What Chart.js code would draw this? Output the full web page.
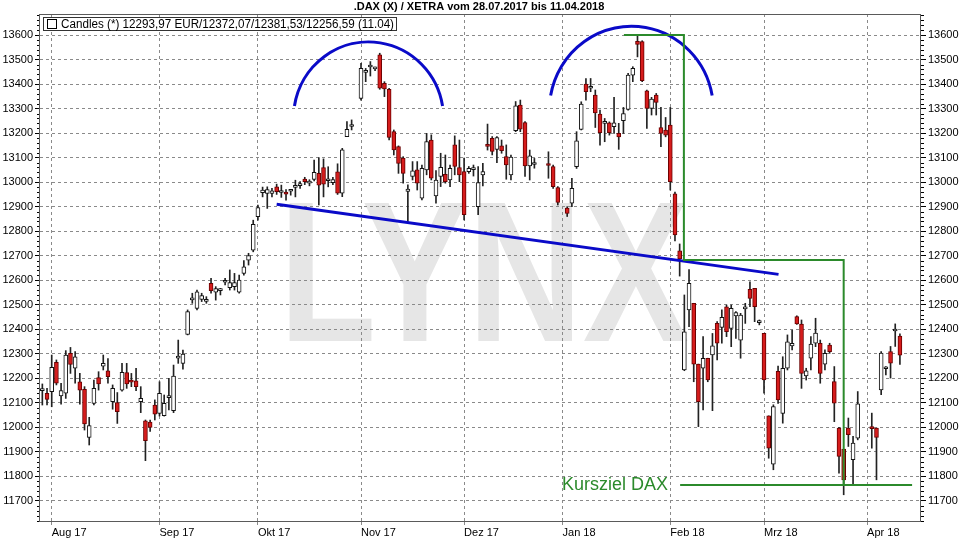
<!DOCTYPE html>
<html>
<head>
<meta charset="utf-8">
<script src="https://cdn.jsdelivr.net/npm/chart.js@4.4.0/dist/chart.umd.min.js"></script>
<style>
  html, body { margin: 0; padding: 0; background: #fff; }
  #wrap { width: 960px; height: 540px; }
</style>
</head>
<body>
<div id="wrap"><canvas id="dax" width="960" height="540"></canvas></div>
<script>
// DAX daily candles 28.07.2017 - 11.04.2018 (one entry per weekday, null = no trading)
const open = [
  12150, 12139, 12146, 12265, 12128, 12139, 12302, 12241, 12186, 12155,
  11959, 12098, 12203, 12250, 12231, 12105, 12101, 12152, 12223, 12193,
  12190, 12105, 12027, 12021, 12091, 12057, 12048, 12121, 12068, 12282,
  12261, 12379, 12520, 12485, 12522, 12514, 12587, 12551, 12558, 12592,
  12570, 12574, 12551, 12628, 12682, 12723, 12859, 12957, 12954, 12954,
  12981, 12958, 12960, 12963, 12979, 12986, 13013, 12996, 13011, 13036,
  13060, 13006, 12998, 13042, 12955, 13186, 13227, null, 13342, 13448,
  13470, 13462, 13519, 13403, 13379, 13206, 13145, 13098, 12962, 13023,
  13050, 12935, 13050, 13172, 12944, 13023, 13032, 13009, 13152, 13060,
  13043, 13043, 13051, 12900, 13030, 13150, 13179, 13134, 13148, 13104,
  13030, 13210, 13315, 13243, 13066, 13072, null, null, 13072, 13064,
  12978, null, 12894, 12914, 13063, 13215, 13400, 13383, 13355, 13278,
  13240, 13242, 13226, 13199, 13251, 13297, 13437, 13575, 13573, 13373,
  13301, 13355, 13223, 13213, 13233, 12952, 12720, 12234, 12479, 12506,
  12258, 12241, 12282, 12295, 12424, 12408, 12492, 12404, 12454, 12356,
  12483, 12563, 12567, 12427, 12383, 12047, 11850, 12228, 12057, 12241,
  12332, 12452, 12421, 12210, 12282, 12343, 12343, 12258, 12336, 12187,
  11997, 11911, 11997, 11868, 11956, null, null, 12000, 11997, 12153,
  12239, 12309, 12393, 12372.07
];
const high = [
  12177, 12159, 12295, 12275, 12180, 12313, 12326, 12309, 12220, 12166,
  12041, 12193, 12227, 12295, 12281, 12173, 12142, 12261, 12261, 12220,
  12241, 12166, 12030, 12030, 12112, 12186, 12132, 12200, 12254, 12356,
  12315, 12479, 12547, 12560, 12547, 12533, 12608, 12574, 12567, 12608,
  12642, 12628, 12621, 12680, 12710, 12845, 12907, 12980, 12981, 12975,
  12992, 12988, 12970, 12970, 13008, 13002, 13020, 13010, 13090, 13100,
  13095, 13063, 13020, 13075, 13138, 13247, 13254, null, 13485, 13464,
  13492, 13470, 13526, 13410, 13383, 13213, 13148, 13104, 12989, 13084,
  13084, 13070, 13199, 13193, 13047, 13118, 13111, 13070, 13189, 13172,
  13098, 13064, 13070, 13064, 13077, 13237, 13186, 13186, 13172, 13152,
  13111, 13329, 13335, 13247, 13131, 13097, null, null, 13124, 13070,
  12982, null, 12900, 13016, 13206, 13328, 13423, 13423, 13376, 13294,
  13260, 13246, 13346, 13240, 13305, 13444, 13471, 13596, 13577, 13376,
  13346, 13362, 13305, 13264, 13305, 12960, 12748, 12540, 12644, 12506,
  12258, 12370, 12282, 12383, 12431, 12479, 12499, 12499, 12472, 12465,
  12506, 12594, 12567, 12438, 12383, 12047, 12092, 12250, 12288, 12377,
  12397, 12455, 12438, 12241, 12370, 12445, 12356, 12316, 12343, 12248,
  12000, 11911, 12038, 11963, 12146, null, null, 12058, 11997, 12309,
  12248, 12330, 12422, 12381.53
];
const low = [
  12091, 12091, 12084, 12173, 12095, 12118, 12220, 12180, 12095, 11989,
  11928, 12091, 12152, 12234, 12180, 12074, 12016, 12148, 12159, 12166,
  12150, 12060, 11864, 11983, 12030, 12046, 12046, 12071, 12060, 12261,
  12237, 12377, 12506, 12479, 12513, 12506, 12547, 12519, 12540, 12581,
  12560, 12560, 12547, 12621, 12662, 12716, 12845, 12940, 12893, 12940,
  12950, 12938, 12927, 12947, 12940, 12975, 12990, 12985, 13005, 12907,
  12940, 12981, 12990, 12950, 12941, 13186, 13213, null, 13335, 13410,
  13433, 13455, 13379, 13349, 13172, 13111, 13036, 12996, 12840, 13009,
  12968, 12928, 13030, 13009, 12914, 12982, 12996, 12982, 13030, 13002,
  12846, 13036, 13025, 12867, 12985, 13131, 13111, 13080, 13118, 13012,
  13009, 13206, 13206, 13023, 13009, 13057, null, null, 13016, 12975,
  12907, null, 12860, 12900, 13056, 13213, 13335, 13369, 13223, 13151,
  13165, 13192, 13199, 13134, 13199, 13294, 13410, 13511, 13410, 13219,
  13274, 13274, 13145, 13185, 12968, 12760, 12617, 12231, 12411, 12186,
  12003, 12071, 12186, 12068, 12275, 12343, 12370, 12329, 12363, 12282,
  12424, 12492, 12431, 12418, 12139, 11874, 11827, 12098, 12017, 12234,
  12316, 12420, 12159, 12193, 12234, 12329, 12180, 12234, 12302, 12023,
  11813, 11725, 11922, 11766, 11949, null, null, 11915, 11786, 12133,
  12214, 12201, 12330, 12256.59
];
const close = [
  12155, 12114, 12245, 12180, 12150, 12295, 12257, 12288, 12152, 12014,
  12007, 12159, 12177, 12261, 12207, 12159, 12064, 12224, 12177, 12184,
  12166, 12118, 11946, 12000, 12054, 12139, 12098, 12125, 12209, 12291,
  12299, 12472, 12525, 12553, 12537, 12518, 12557, 12566, 12562, 12596,
  12590, 12590, 12601, 12655, 12701, 12828, 12896, 12968, 12970, 12965,
  12961, 12962, 12951, 12967, 12983, 12990, 13002, 13000, 13040, 12988,
  12992, 13010, 13011, 12955, 13132, 13216, 13231, null, 13464, 13452,
  13475, 13466, 13383, 13380, 13183, 13132, 13077, 13036, 12972, 13046,
  12996, 13057, 13166, 13016, 13009, 13061, 13002, 13057, 13064, 13030,
  12867, 13057, 13055, 12998, 13043, 13146, 13125, 13182, 13129, 13070,
  13102, 13311, 13216, 13066, 13108, 13076, null, null, 13068, 12982,
  12917, null, 12873, 12975, 13169, 13319, 13369, 13387, 13283, 13202,
  13244, 13202, 13242, 13185, 13280, 13437, 13464, 13562, 13414, 13301,
  13339, 13325, 13199, 13192, 13002, 12785, 12687, 12390, 12587, 12258,
  12105, 12282, 12193, 12332, 12343, 12449, 12390, 12485, 12468, 12458,
  12487, 12526, 12492, 12434, 12193, 11915, 12085, 12112, 12241, 12349,
  12343, 12422, 12220, 12231, 12340, 12384, 12220, 12302, 12309, 12099,
  11881, 11786, 11970, 11936, 12096, null, null, 11995, 11959, 12303,
  12241, 12262, 12397, 12293.97
];

const monthKeys = ['2017-08', '2017-09', '2017-10', '2017-11', '2017-12', '2018-01', '2018-02', '2018-03', '2018-04'];
const monthLabels = ['Aug 17', 'Sep 17', 'Okt 17', 'Nov 17', 'Dez 17', 'Jan 18', 'Feb 18', 'Mrz 18', 'Apr 18'];
const yTicksMin = 11700, yTicksMax = 13600;

// weekdays of the period as categories, plus a little empty room on the right
const days = [];
for (let d = new Date(Date.UTC(2017, 6, 28)); d <= new Date(Date.UTC(2018, 3, 11)); d.setUTCDate(d.getUTCDate() + 1)) {
  const wd = d.getUTCDay();
  if (wd !== 0 && wd !== 6) days.push(d.toISOString().slice(0, 10));
}
const labels = days.concat(['', '', '', '']);
const monthIdx = monthKeys.map(k => days.findIndex(d => d.startsWith(k)));

const bodies = open.map((o, i) => o == null ? null : [o, close[i]]);
const wicks = low.map((l, i) => l == null ? null : [l, high[i]]);
const isUp = open.map((o, i) => close[i] >= o);

const RED = '#d61c1c';
const GREEN = '#2b8a2b';
const BLUE = '#0a0ac8';
const FONT = '"Liberation Sans", Arial, sans-serif';

const decor = {
  id: 'decor',
  beforeDraw(chart) {
    const { ctx } = chart;
    ctx.save();
    ctx.fillStyle = '#fff';
    ctx.fillRect(0, 0, chart.width, chart.height);
    // watermark
    ctx.font = 'bold 200px ' + FONT;
    const w = ctx.measureText('LYNX').width;
    ctx.fillStyle = '#e6e6e6';
    ctx.translate(279, 341);
    ctx.scale(410 / w, 1);
    ctx.textBaseline = 'alphabetic';
    ctx.fillText('LYNX', 0, 0);
    ctx.restore();

    ctx.save();
    ctx.fillStyle = '#000';
    ctx.font = 'bold 11px ' + FONT;
    ctx.textAlign = 'center';
    ctx.textBaseline = 'middle';
    ctx.fillText('.DAX (X) / XETRA vom 28.07.2017 bis 11.04.2018', 479, 7);
    ctx.restore();
  },
  afterDatasetsDraw(chart) {
    const { ctx } = chart;
    const xs = chart.scales.x, ys = chart.scales.y;
    const px = i => xs.getPixelForValue(i);
    const py = v => ys.getPixelForValue(v);
    ctx.save();
    ctx.lineCap = 'butt';

    // Schulter-Bögen
    ctx.strokeStyle = BLUE;
    ctx.lineWidth = 3;
    [[69.6, 13262, 16, 310, -171, -9], [125.7, 13294, 17.5, 342, -170, -10]].forEach(([ci, cv, ri, rv, a0, a1]) => {
      const cx = px(ci), cy = py(cv);
      const rx = px(ci + ri) - cx, ry = cy - py(cv + rv);
      ctx.beginPath();
      ctx.ellipse(cx, cy, rx, ry, 0, a0 * Math.PI / 180, a1 * Math.PI / 180);
      ctx.stroke();
    });

    // Nackenlinie
    ctx.beginPath();
    ctx.moveTo(px(50.0), py(12910));
    ctx.lineTo(px(157.1), py(12624));
    ctx.stroke();

    // Kursziel
    ctx.strokeStyle = GREEN;
    ctx.lineWidth = 2;
    ctx.beginPath();
    ctx.moveTo(px(124.1), py(13600));
    ctx.lineTo(px(136.9), py(13600));
    ctx.lineTo(px(136.9), py(12683));
    ctx.lineTo(px(171.0), py(12683));
    ctx.lineTo(px(171.0), py(11765));
    ctx.stroke();
    ctx.beginPath();
    ctx.moveTo(px(136.1), py(11765));
    ctx.lineTo(px(185.6), py(11765));
    ctx.stroke();

    ctx.fillStyle = GREEN;
    ctx.font = '18px ' + FONT;
    ctx.textAlign = 'right';
    ctx.textBaseline = 'middle';
    ctx.fillText('Kursziel DAX', px(133.5), py(11765));
    ctx.restore();
  },
  afterDraw(chart) {
    const { ctx, chartArea: a } = chart;
    const ys = chart.scales.y;
    ctx.save();
    // minor ticks
    ctx.strokeStyle = '#000';
    ctx.lineWidth = 1;
    ctx.beginPath();
    for (let v = 11620; v <= 13680; v += 20) {
      if (v % 100 === 0) continue;
      const y = Math.round(ys.getPixelForValue(v)) + 0.5;
      ctx.moveTo(a.left - 3, y); ctx.lineTo(a.left, y);
      ctx.moveTo(a.right, y); ctx.lineTo(a.right + 3, y);
    }
    ctx.stroke();
    // frame
    ctx.strokeStyle = '#5a5a5a';
    ctx.strokeRect(Math.round(a.left) - 0.5, Math.round(a.top) + 0.5, Math.round(a.right - a.left), Math.round(a.bottom - a.top));
    // legend box
    ctx.fillStyle = '#fff';
    ctx.fillRect(43, 17, 354, 14);
    ctx.strokeStyle = '#333';
    ctx.strokeRect(43.5, 17.5, 353, 13);
    ctx.strokeStyle = '#000';
    ctx.strokeRect(47.5, 19.5, 9, 9);
    ctx.fillStyle = '#000';
    ctx.font = '12px ' + FONT;
    ctx.textBaseline = 'middle';
    const txt = 'Candles (*) 12293,97 EUR/12372,07/12381,53/12256,59 (11.04)';
    const tw = ctx.measureText(txt).width;
    ctx.translate(61, 24.5);
    ctx.scale(Math.min(1, 333 / tw), 1);
    ctx.fillText(txt, 0, 0);
    ctx.restore();
  }
};

const tickFont = { family: FONT, size: 11 };

new Chart(document.getElementById('dax'), {
  type: 'bar',
  data: {
    labels: labels,
    datasets: [
      {
        label: 'Kerze',
        data: bodies,
        backgroundColor: isUp.map(u => u ? '#ffffff' : RED),
        borderColor: isUp.map(u => u ? '#111111' : '#6a0000'),
        borderWidth: 1,
        borderSkipped: false,
        barThickness: 4,
        minBarLength: 2,
        grouped: false,
        order: 0,
        yAxisID: 'y'
      },
      {
        label: 'Docht',
        data: wicks,
        backgroundColor: '#222222',
        borderWidth: 0,
        barThickness: 1,
        grouped: false,
        order: 1,
        yAxisID: 'y'
      }
    ]
  },
  options: {
    responsive: false,
    animation: false,
    devicePixelRatio: 1,
    layout: { padding: { top: 14, left: 0, right: 0, bottom: 0 } },
    plugins: {
      legend: { display: false },
      tooltip: { enabled: false },
      title: { display: false }
    },
    scales: {
      x: {
        type: 'category',
        offset: true,
        grid: {
          offset: false,
          color: c => monthIdx.includes(c.index) ? '#8a8a8a' : 'rgba(0,0,0,0)',
          tickLength: 4
        },
        border: { display: false, dash: [3, 3] },
        ticks: {
          autoSkip: false,
          maxRotation: 0,
          minRotation: 0,
          align: 'start',
          padding: 1,
          color: '#000',
          font: tickFont,
          callback: (v, i) => {
            const k = monthIdx.indexOf(i);
            return k < 0 ? '' : monthLabels[k];
          }
        },
        afterFit: s => { s.height = 19; }
      },
      y: {
        position: 'left',
        min: 11618,
        max: 13686,
        grid: { color: '#8a8a8a', tickColor: '#000', tickLength: 5 },
        border: { display: false, dash: [3, 3] },
        ticks: {
          stepSize: 100,
          maxTicksLimit: 40,
          includeBounds: false,
          padding: 2,
          color: '#000',
          font: tickFont,
          callback: v => (v >= yTicksMin && v <= yTicksMax) ? String(v) : ''
        },
        afterFit: s => { s.width = 40; }
      },
      y2: {
        position: 'right',
        min: 11618,
        max: 13686,
        grid: { drawOnChartArea: false, color: '#000', tickLength: 5 },
        border: { display: false },
        ticks: {
          stepSize: 100,
          maxTicksLimit: 40,
          includeBounds: false,
          padding: 2,
          color: '#000',
          font: tickFont,
          callback: v => (v >= yTicksMin && v <= yTicksMax) ? String(v) : ''
        },
        afterFit: s => { s.width = 39; }
      }
    }
  },
  plugins: [decor]
});
</script>
</body>
</html>
